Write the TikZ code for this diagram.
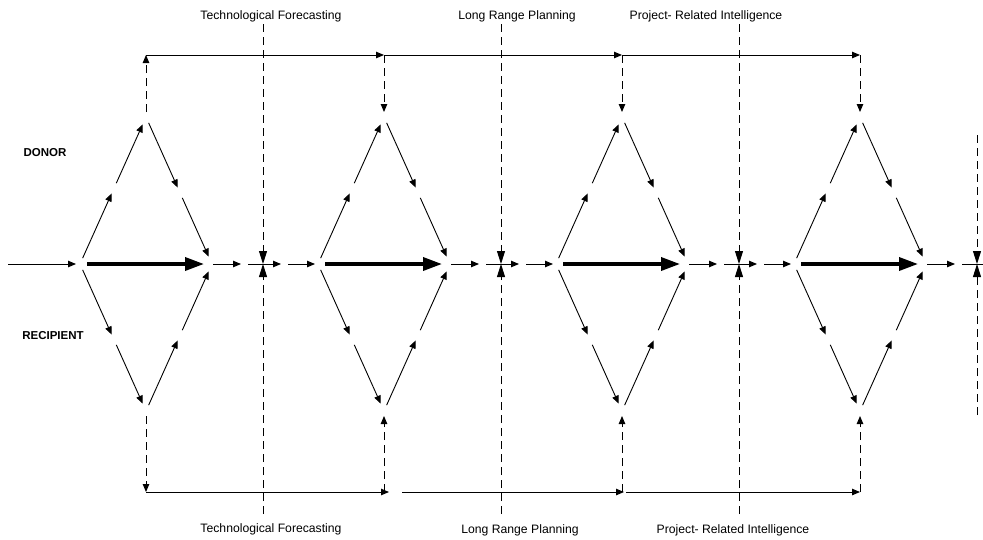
\documentclass[tikz,border=0pt]{standalone}
\usepackage{fontspec}
\setmainfont{Liberation Sans}
\usetikzlibrary{arrows.meta,calc}
\begin{document}
\begin{tikzpicture}[x=1pt,y=-1pt,
  ln/.style={line width=0.9pt},
  arr/.style={ln,-{Triangle[length=8pt,width=6.5pt]}},
  dasharr/.style={ln,dash pattern=on 8pt off 5pt,-{Triangle[length=8pt,width=6.5pt]}},
  dashcross/.style={ln,dash pattern=on 8pt off 5pt,-{Triangle[length=13pt,width=8pt]}},
  bigarr/.style={line width=3.5pt,-{Triangle[length=19pt,width=13pt]}},
  lbl/.style={font=\fontsize{12.2}{14}\selectfont,inner sep=0pt},
  side/.style={font=\fontsize{11.5}{13}\selectfont\bfseries,inner sep=0pt}]
\useasboundingbox (0,0) rectangle (983,539);

% diamonds
\foreach \i in {0,1,2,3}{
  \pgfmathsetmacro\o{238*\i}
  \coordinate (L\i) at (80+\o,264);
  \coordinate (T\i) at (146+\o,117);
  \coordinate (R\i) at (212+\o,264);
  \coordinate (B\i) at (146+\o,411);
  \coordinate (C\i) at (146+\o,55);
  \coordinate (D\i) at (146+\o,492);
  \coordinate (TU\i) at (146+\o,112);
  \coordinate (BU\i) at (146+\o,416);
}
\foreach \i in {0,1,2,3}{
  \foreach \a/\c in {L/T,T/R,L/B,B/R}{
    \draw[arr] ($(\a\i)!0.04!(\c\i)$) -- ($(\a\i)!0.48!(\c\i)$);
    \draw[arr] ($(\a\i)!0.55!(\c\i)$) -- ($(\a\i)!0.95!(\c\i)$);
  }
  \draw[bigarr] ($(L\i)+(7,0)$) -- ($(R\i)+(-8,0)$);
  \draw[arr] ($(R\i)+(1,0)$) -- ($(R\i)+(29,0)$);
}
% links between diamonds along the main line
\foreach \i in {0,1,2}{
  \draw[arr] ($(R\i)+(36,0)$) -- ($(R\i)+(69,0)$);
  \draw[arr] ($(R\i)+(76,0)$) -- ($(R\i)+(103,0)$);
}
\coordinate (endline) at (983,264);
\draw[ln] ($(R3)+(36,0)$) -- (endline);

% input
\coordinate (start) at (8,264);
\draw[arr] (start) -- ($(L0)+(-4,0)$);

% top feedback
\draw[dasharr] (TU0) -- (C0);
\foreach \i in {1,2,3}{\draw[dasharr] (C\i) -- (TU\i);}
\draw[arr] (C0) -- (C1);
\draw[arr] (C1) -- (C2);
\draw[arr] (C2) -- (C3);

% bottom feedback
\draw[dasharr] (BU0) -- (D0);
\foreach \i in {1,2,3}{\draw[dasharr] (D\i) -- (BU\i);}
\draw[arr] (D0) -- ($(D1)+(5,0)$);
\draw[arr] ($(D1)+(18,0)$) -- ($(D2)+(2,0)$);
\draw[arr] ($(D2)+(4,0)$) -- (D3);

% vertical dashed phase lines
\foreach \k in {0,1,2}{
  \pgfmathsetmacro\xx{263+238*\k}
  \coordinate (P\k) at (\xx,24);
  \coordinate (Q\k) at (\xx,514);
  \coordinate (M\k) at (\xx,264);
  \draw[dashcross] (P\k) -- (M\k);
  \draw[dashcross] (Q\k) -- (M\k);
}
\coordinate (P3) at (977,135);
\coordinate (Q3) at (977,415);
\coordinate (M3) at (977,264);
\draw[dashcross] (P3) -- (M3);
\draw[dashcross] (Q3) -- (M3);

% labels
\node[lbl] (t1) at (271,16) {Technological Forecasting};
\node[lbl] (t2) at (517,16) {Long Range Planning};
\node[lbl] (t3) at (706,16) {Project- Related Intelligence};
\node[lbl] (b1) at (271,529) {Technological Forecasting};
\node[lbl] (b2) at (520,530) {Long Range Planning};
\node[lbl] (b3) at (733,530) {Project- Related Intelligence};
\node[side] (donor) at (45,153) {DONOR};
\node[side] (recip) at (53,336) {RECIPIENT};
\end{tikzpicture}
\end{document}
